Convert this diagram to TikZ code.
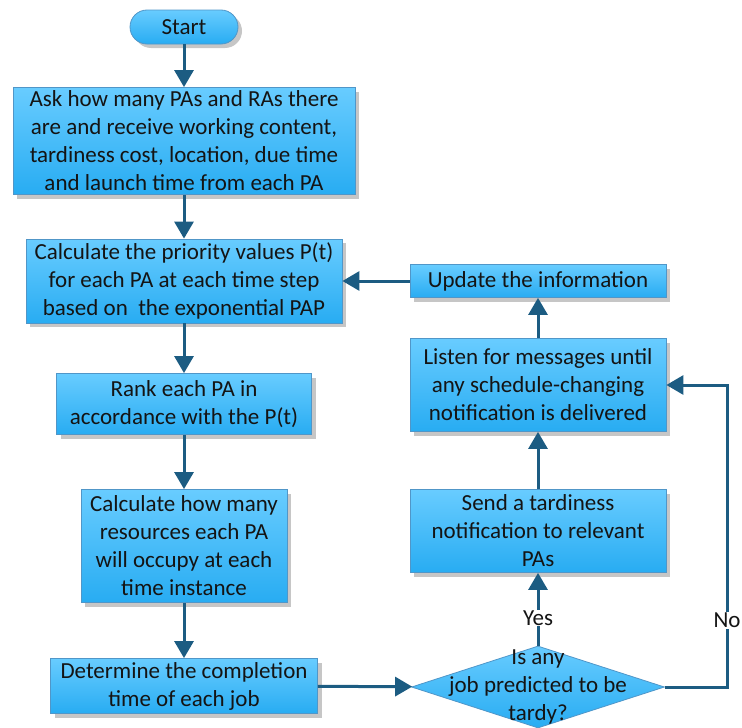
\documentclass[tikz,border=0pt]{standalone}
\usepackage{fontspec}
\setmainfont{Carlito}
\usetikzlibrary{arrows.meta, positioning, shapes.geometric, shadows}
\definecolor{FlowTop}{RGB}{104,204,255}
\definecolor{FlowBot}{RGB}{40,172,242}
\definecolor{FlowEdge}{RGB}{80,150,200}
\definecolor{FlowArrow}{RGB}{28,92,130}
\definecolor{FlowText}{RGB}{20,20,20}

\begin{document}
\begin{tikzpicture}[
    x=1pt, y=-1pt,
    proc/.style={
      rectangle, draw=FlowEdge, line width=0.8pt, top color=FlowTop, bottom color=FlowBot,
      align=center, inner sep=2pt, text=FlowText, font=\fontsize{23}{28}\selectfont,
      drop shadow={shadow xshift=4pt, shadow yshift=-4pt, opacity=0.45, fill=gray}
    },
    term/.style={proc, rounded corners=17pt},
    dec/.style={diamond, draw=FlowEdge, line width=0.8pt, top color=FlowTop, bottom color=FlowBot,
      inner sep=0pt, minimum width=253pt, minimum height=82pt},
    flow/.style={draw=FlowArrow, line width=3pt, -{Triangle[width=19pt, length=17pt]}},
    lbl/.style={text=FlowText, font=\fontsize{23}{28}\selectfont}
  ]
    \useasboundingbox (0,0) rectangle (742,728);

    % main column
    \node[term, minimum width=108pt, minimum height=34pt] (start) at (184,27) {Start};
    \node[proc, minimum width=342pt, minimum height=107pt] (ask) at (184,141)
      {Ask how many PAs and RAs there\\are and receive working content,\\tardiness cost, location, due time\\and launch time from each PA};
    \node[proc, minimum width=316pt, minimum height=84pt] (prio) at (184,281)
      {Calculate the priority values P(t)\\for each PA at each time step\\based on\ \ the exponential PAP};
    \node[proc, minimum width=255pt, minimum height=61pt] (rank) at (184,404)
      {Rank each PA in\\accordance with the P(t)};
    \node[proc, minimum width=206pt, minimum height=113pt] (res) at (184,546)
      {Calculate how many\\resources each PA\\will occupy at each\\time instance};
    \node[proc, minimum width=267pt, minimum height=55pt] (done) at (184,686)
      {Determine the completion\\time of each job};

    % right column
    \node[dec, label={[lbl, align=center]center:Is any\\job predicted to be\\tardy?}] (tardy) at (538,687) {};
    \node[proc, minimum width=256pt, minimum height=83pt] (send) at (538,531)
      {Send a tardiness\\notification to relevant\\PAs};
    \node[proc, minimum width=256pt, minimum height=93pt] (listen) at (538,385)
      {Listen for messages until\\any schedule-changing\\notification is delivered};
    \node[proc, minimum width=256pt, minimum height=33pt] (upd) at (538,281)
      {Update the information};
    \coordinate (nocorner) at (727,0);

    \draw[flow] (start) -- (ask);
    \draw[flow] (ask) -- (prio);
    \draw[flow] (prio) -- (rank);
    \draw[flow] (rank) -- (res);
    \draw[flow] (res) -- (done);
    \draw[flow] (done) -- (tardy);
    \draw[flow] (tardy) -- node[lbl, fill=white, inner sep=1pt, pos=0.38] {Yes} (send);
    \draw[flow] (tardy.east) -| node[lbl, fill=white, inner sep=1pt, pos=0.61] {No} (nocorner |- listen.east) -- (listen.east);
    \draw[flow] (send) -- (listen);
    \draw[flow] (listen) -- (upd);
    \draw[flow] (upd) -- (prio);
  \end{tikzpicture}
\end{document}
